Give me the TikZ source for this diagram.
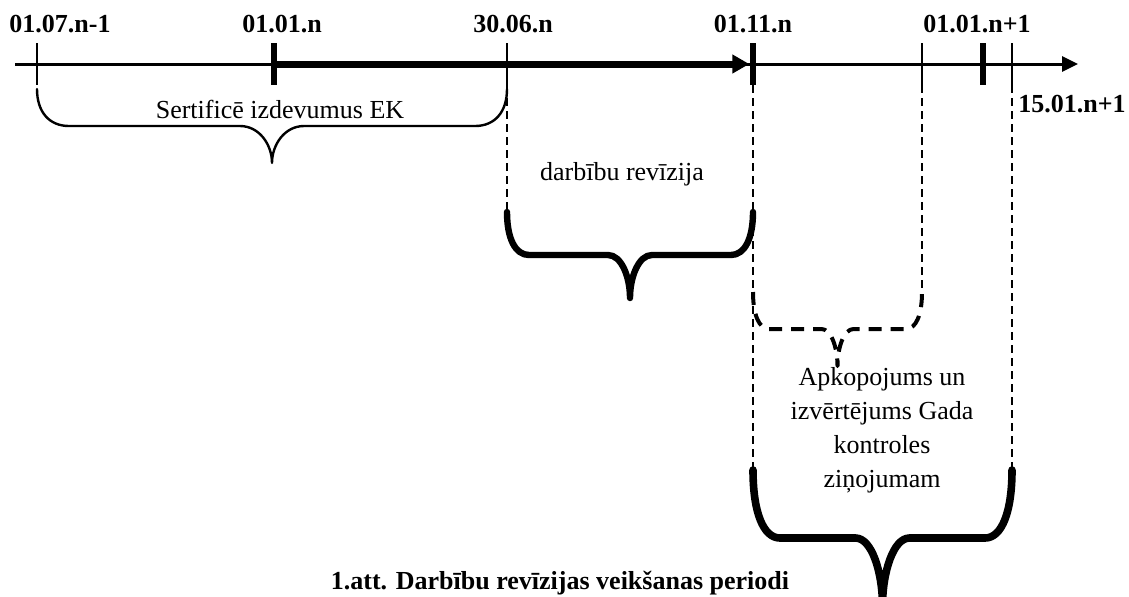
\documentclass[tikz,border=0pt]{standalone}
\usepackage{fontspec}
\setmainfont{Liberation Serif}
\usetikzlibrary{arrows.meta,positioning,calc}
\tikzset{
  lbl/.style={inner sep=0pt,font=\fontsize{13pt}{17pt}\selectfont},
  datelbl/.style={inner sep=0pt,font=\fontsize{13pt}{17pt}\selectfont\bfseries},
  tickthin/.style={rectangle,fill=black,inner sep=0pt,minimum width=1pt,minimum height=21pt},
  tickbold/.style={tickthin,minimum width=3.3pt},
  axisline/.style={line width=1.5pt,-{Triangle[length=8pt,width=7.5pt]}},
  axisbold/.style={line width=3.5pt,-{Triangle[length=8.5pt,width=9pt]}},
  guide/.style={line width=0.75pt,dash pattern=on 4pt off 2.5pt},
  bracethin/.style={line width=1.2pt,line cap=round,line join=round},
  bracebold/.style={line width=3.2pt,line cap=round,line join=round},
  bracedash/.style={line width=2pt,line join=round,dash pattern=on 6.5pt off 4.5pt},
  bracefat/.style={line width=3.8pt,line cap=round,line join=round},
  curly/.style 2 args={to path={
    let \p1=(\tikztostart), \p2=(\tikztotarget), \p3=($(\p1)!.5!(\p2)$) in
    .. controls ($(\p1)+(0,.62*#1)$) and ($(\p1)+(.38*#2,#1)$) .. ($(\p1)+(#2,#1)$)
    -- ($(\p3)+(-#2,#1)$)
    .. controls ($(\p3)+(-.4*#2,#1)$) and ($(\p3)+(0,1.5*#1)$) .. ($(\p3)+(0,2*#1)$)
    .. controls ($(\p3)+(0,1.5*#1)$) and ($(\p3)+(.4*#2,#1)$) .. ($(\p3)+(#2,#1)$)
    -- ($(\p2)+(-#2,#1)$)
    .. controls ($(\p2)+(-.38*#2,#1)$) and ($(\p2)+(0,.62*#1)$) .. (\p2)
  }}
}

\begin{document}
\begin{tikzpicture}[x=0.5pt,y=-0.5pt]
  \clip (0,0) rectangle (1129,596);

  % time axis
  \coordinate (axstart) at (15,64);
  \coordinate (axend) at (1078,64);
  \draw[axisline] (axstart) -- (axend);
  \node[tickthin] (a) at (37,64) {};
  \node[tickbold] (b) at (274,64) {};
  \node[tickthin] (c) at (507,64) {};
  \node[tickbold] (d) at (753,64) {};
  \node[tickthin] (e) at (922,64) {};
  \node[tickbold] (f) at (983,64) {};
  \node[tickthin] (g) at (1012,64) {};
  \draw[axisbold] (b.center) -- (d.west);

  \node[datelbl,above=4.5pt of a,xshift=11.5pt] (la) {01.07.n-1};
  \node[datelbl,above=4.5pt of b,xshift=4pt] (lb) {01.01.n};
  \node[datelbl,above=4.5pt of c,xshift=3pt] (lc) {30.06.n};
  \node[datelbl,above=4.5pt of d] (ld) {01.11.n};
  \node[datelbl,above=4.5pt of f,xshift=-3pt] (lf) {01.01.n+1};
  \node[datelbl,below right=4.5pt and 2.25pt of g] (lg) {15.01.n+1};

  % brace ends
  \coordinate (s1) at (37,89);   \coordinate (s2) at (507,89);
  \coordinate (r1) at (507,212); \coordinate (r2) at (753,212);
  \coordinate (k1) at (753,292); \coordinate (k2) at (922,292);
  \coordinate (z1) at (753,470); \coordinate (z2) at (1012,470);

  \draw[guide] (c.south) -- (r1);
  \draw[guide] (d.south) -- (z1);
  \draw[guide] (e.south) -- (k2);
  \draw[guide] (g.south) -- (z2);

  \draw[bracethin] (s1) to[curly={37}{32}] (s2);
  \draw[bracebold] (r1) to[curly={43}{22}] (r2);
  \draw[bracedash] (k1) to[curly={37}{16}] (k2);
  \draw[bracefat] (z1) to[curly={68}{27}] (z2);

  \node[lbl,anchor=base] (sert) at (280,118) {Sertificē izdevumus EK};
  \node[lbl,anchor=base] (revis) at (622,180) {darbību revīzija};
  \node[lbl,anchor=north,align=center] (report) at (882,367)
    {Apkopojums un\\izvērtējums Gada\\kontroles\\ziņojumam};
  \node[datelbl,anchor=base] (caption) at (560,589) {1.att. Darbību revīzijas veikšanas periodi};
\end{tikzpicture}
\end{document}
